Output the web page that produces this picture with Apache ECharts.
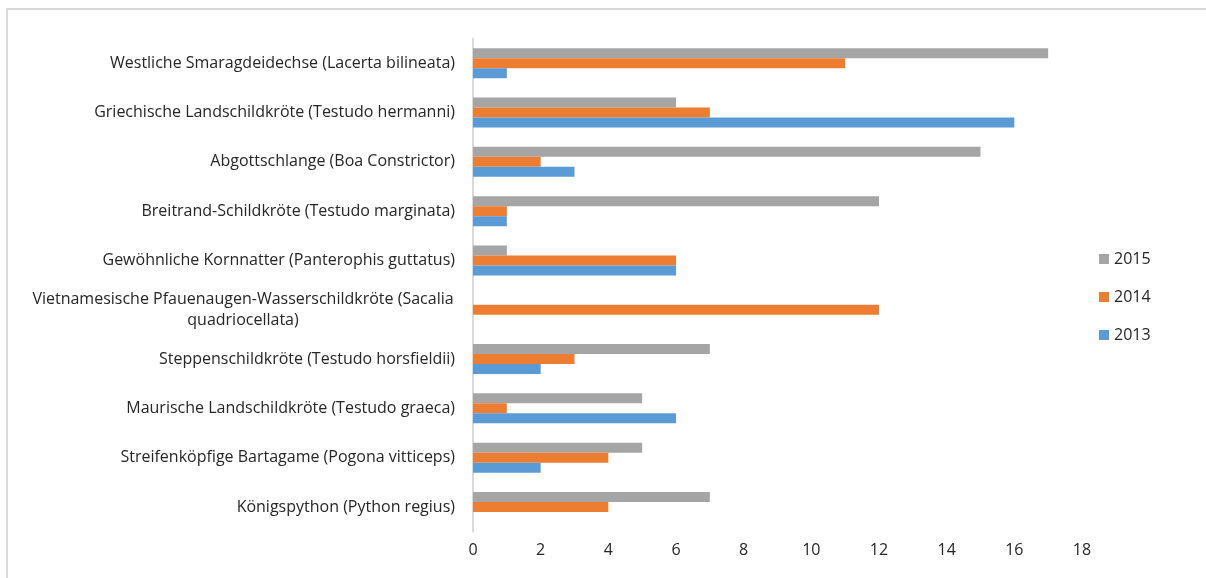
<!DOCTYPE html>
<html>
<head>
<meta charset="utf-8">
<script src="https://cdn.jsdelivr.net/npm/echarts@6/dist/echarts.min.js"></script>
<style>
html,body{margin:0;padding:0;background:#fff;}
#chart{width:1206px;height:578px;}
</style>
</head>
<body>
<div id="chart"></div>
<script>
// categories bottom-to-top
var categories = [
  "Königspython (Python regius)",
  "Streifenköpfige Bartagame (Pogona vitticeps)",
  "Maurische Landschildkröte (Testudo graeca)",
  "Steppenschildkröte (Testudo horsfieldii)",
  "Vietnamesische Pfauenaugen-Wasserschildkröte (Sacalia\nquadriocellata)",
  "Gewöhnliche Kornnatter (Panterophis guttatus)",
  "Breitrand-Schildkröte (Testudo marginata)",
  "Abgottschlange (Boa Constrictor)",
  "Griechische Landschildkröte (Testudo hermanni)",
  "Westliche Smaragdeidechse (Lacerta bilineata)"
];
var values2013 = [0, 2, 6, 2, 0, 6, 1, 3, 16, 1];
var values2014 = [4, 4, 1, 3, 12, 6, 1, 2, 7, 11];
var values2015 = [7, 5, 5, 7, 0, 1, 12, 15, 6, 17];
var xTicks = { min: 0, max: 18, interval: 2 };

var font = "Open Sans";
var fs = 16;
var chart = echarts.init(document.getElementById('chart'));
chart.setOption({
  animation: false,
  textStyle: { fontFamily: font },
  graphic: [{
    type: 'rect', silent: true,
    shape: { x: 7, y: 9, width: 1400, height: 800 },
    style: { fill: 'none', stroke: '#D9D9D9', lineWidth: 2 }
  }],
  legend: {
    orient: 'vertical',
    left: 1094, top: 246,
    itemWidth: 10, itemHeight: 10, itemGap: 22,
    icon: 'rect',
    data: ['2015', '2014', '2013'],
    textStyle: { fontFamily: font, fontSize: fs, color: '#262626' }
  },
  grid: { left: 473, right: 124, top: 38.6, bottom: 46.4, containLabel: false },
  xAxis: {
    type: 'value',
    min: xTicks.min, max: xTicks.max, interval: xTicks.interval,
    axisLine: { show: false }, axisTick: { show: false },
    splitLine: { show: false },
    axisLabel: { fontFamily: font, fontSize: fs, color: '#262626', margin: 11 }
  },
  yAxis: {
    type: 'category',
    data: categories,
    axisLine: { show: true, lineStyle: { color: '#D9D9D9', width: 2 } },
    axisTick: { show: false },
    axisLabel: {
      fontFamily: font, fontSize: fs, color: '#262626', margin: 18,
      lineHeight: 21,
      formatter: function (v) {
        if (v.indexOf('\n') >= 0) {
          var p = v.split('\n');
          return '{c|' + p[0] + '}\n{c|' + p[1] + '}';
        }
        return v;
      },
      rich: { c: { width: 424, align: 'center', fontFamily: font, fontSize: fs, color: '#262626', lineHeight: 21 } }
    }
  },
  series: [
    { name: '2015', type: 'bar', data: values2015, barWidth: 10, barGap: '0%', itemStyle: { color: '#A5A5A5' } },
    { name: '2014', type: 'bar', data: values2014, barWidth: 10, barGap: '0%', itemStyle: { color: '#ED7D31' } },
    { name: '2013', type: 'bar', data: values2013, barWidth: 10, barGap: '0%', itemStyle: { color: '#5B9BD5' } }
  ]
});
</script>
</body>
</html>
